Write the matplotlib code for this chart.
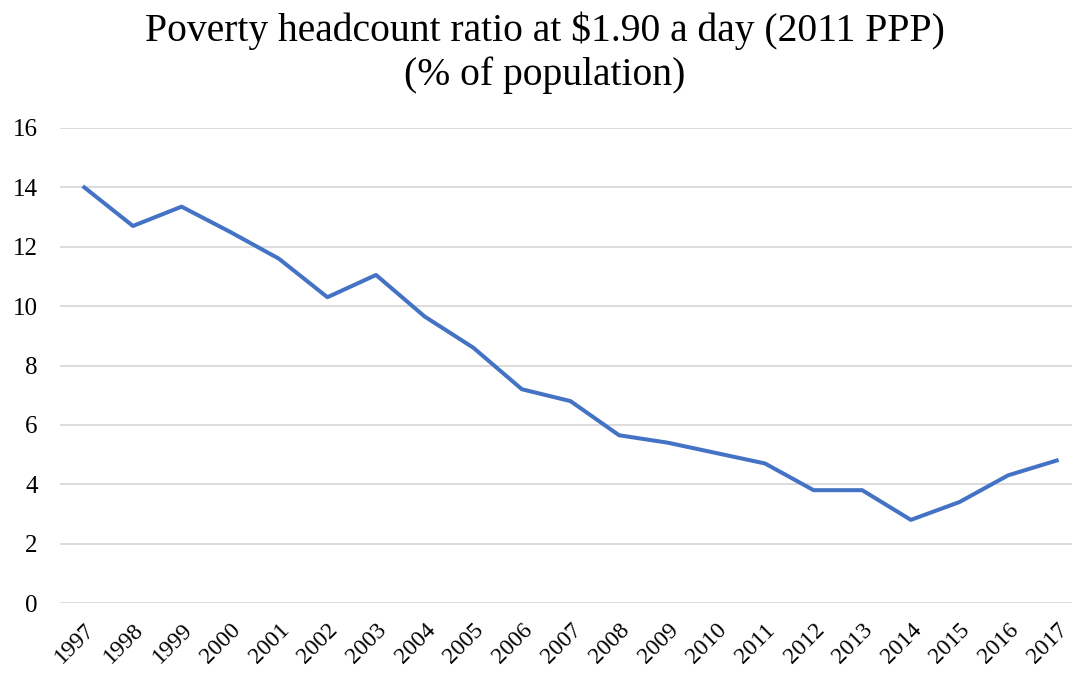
import matplotlib
matplotlib.use('Agg')
import matplotlib.pyplot as plt

# poverty headcount ratio, % of population
years = [str(y) for y in range(1997, 2018)]
poverty = [14.0, 12.7, 13.35, 12.5, 11.6, 10.3, 11.05, 9.65, 8.6, 7.2, 6.8,
           5.65, 5.4, 5.05, 4.7, 3.8, 3.8, 2.8, 3.4, 4.3, 4.8]
yticks = [0, 2, 4, 6, 8, 10, 12, 14, 16]

plt.rcParams['font.family'] = ['Liberation Serif', 'DejaVu Serif']

fig = plt.figure(figsize=(10.72, 6.75), dpi=100)
ax = fig.add_axes([60 / 1072, 72 / 675, 1021 / 1072, 475 / 675])

x = list(range(len(years)))
ax.plot(x, poverty, color='#4472C4', lw=2.9, solid_joinstyle='round', zorder=3)

ax.set_xlim(-0.5, len(years) - 0.5)
ax.set_ylim(0, 16)
ax.set_yticks(yticks)
ax.set_yticklabels([str(v) for v in yticks], fontsize=18)
ax.set_xticks(x)
ax.set_xticklabels(years, fontsize=17, rotation=45, ha='right', va='top',
                   rotation_mode='anchor')
ax.tick_params(axis='both', length=0)
ax.tick_params(axis='y', pad=16)
ax.tick_params(axis='x', pad=12)

ax.grid(axis='y', color='#d9d9d9', lw=1.3, zorder=0)
ax.set_axisbelow(True)
for s in ax.spines.values():
    s.set_visible(False)

fig.text(0.508, 0.955, 'Poverty headcount ratio at $1.90 a day (2011 PPP)',
         ha='center', va='center', fontsize=28.5)
fig.text(0.508, 0.888, '(% of population)', ha='center', va='center', fontsize=28.5)

fig.savefig('out.png', dpi=100)
